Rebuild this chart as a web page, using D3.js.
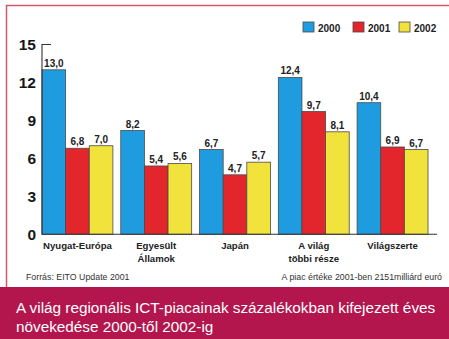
<!DOCTYPE html>
<html>
<head>
<meta charset="utf-8">
<script src="https://cdn.jsdelivr.net/npm/d3@7"></script>
<style>
  html, body { margin: 0; padding: 0; background: #ffffff; }
  svg { display: block; font-family: "Liberation Sans", Arial, Helvetica, sans-serif; }
</style>
</head>
<body>
<svg id="chart" width="449" height="339"></svg>
<script>
// Regional ICT market growth, percent per year
const categories = ["Nyugat-Európa", "Egyesült Államok", "Japán", "A világ többi része", "Világszerte"];
const categoryLines = [["Nyugat-Európa"], ["Egyesült", "Államok"], ["Japán"], ["A világ", "többi része"], ["Világszerte"]];
const years = ["2000", "2001", "2002"];
const values2000 = [13.0, 8.2, 6.7, 12.4, 10.4];
const values2001 = [6.8, 5.4, 4.7, 9.7, 6.9];
const values2002 = [7.0, 5.6, 5.7, 8.1, 6.7];
const yTicks = [0, 3, 6, 9, 12, 15];
const colors = ["#1f9be0", "#e3262b", "#f1e23c"];

const seriesValues = [values2000, values2001, values2002];
const rows = categories.map((c, i) => ({
  category: c,
  lines: categoryLines[i],
  values: years.map((y, j) => ({ year: y, value: seriesValues[j][i] }))
}));

const svg = d3.select("#chart");
const W = 449, H = 339;

const fmt = d3.formatLocale({ decimal: ",", thousands: " ", grouping: [3], currency: ["", ""] }).format(".1f");

// Frame and footer band
svg.append("rect").attr("x", 0).attr("y", 0).attr("width", W).attr("height", H).attr("fill", "#ffffff");
svg.append("path")
  .attr("d", `M6.5,288 V5.5 H${W}`)
  .attr("fill", "none").attr("stroke", "#cf5a6c").attr("stroke-width", 1.5);
svg.append("rect").attr("x", 0).attr("y", 287).attr("width", W).attr("height", H - 287).attr("fill", "#b2164d");

// Scales
const x0 = d3.scaleBand().domain(categories).range([42, 428]).paddingInner(0.1).paddingOuter(0);
const x1 = d3.scaleBand().domain(years).range([0, x0.bandwidth()]);
const color = d3.scaleOrdinal().domain(years).range(colors);
const y = d3.scaleLinear().domain([0, 15]).range([234.3, 44.5]);

// Bars
const groups = svg.append("g").selectAll("g").data(rows).join("g")
  .attr("transform", d => `translate(${x0(d.category)},0)`);

groups.selectAll("rect").data(d => d.values).join("rect")
  .attr("x", d => x1(d.year))
  .attr("y", d => y(d.value))
  .attr("width", x1.bandwidth())
  .attr("height", d => y(0) - y(d.value))
  .attr("fill", d => color(d.year))
  .attr("stroke", "#4a4a4a")
  .attr("stroke-width", 0.8);

groups.selectAll("text.val").data(d => d.values).join("text")
  .attr("class", "val")
  .attr("x", d => x1(d.year) + x1.bandwidth() / 2)
  .attr("y", d => y(d.value) - 3)
  .attr("text-anchor", "middle")
  .attr("font-size", 10)
  .attr("font-weight", "bold")
  .attr("fill", "#222")
  .text(d => fmt(d.value));

// Axes lines: top tick, vertical axis, baseline
svg.append("path")
  .attr("d", `M51,${y(15)} H42 V${y(0)} H437`)
  .attr("fill", "none").attr("stroke", "#333").attr("stroke-width", 1.1);

// Y tick labels
const yAxis = svg.append("g")
  .attr("transform", "translate(42,0)")
  .call(d3.axisLeft(y).tickValues(yTicks).tickSize(0).tickPadding(6).tickFormat(d3.format("d")));
yAxis.select(".domain").remove();
yAxis.selectAll("text")
  .attr("font-size", 15.5).attr("font-weight", "bold").attr("fill", "#161616")
  .attr("font-family", "'Liberation Sans', Arial, sans-serif");

// Category labels
const catLabels = svg.append("g").selectAll("text").data(rows).join("text")
  .attr("x", d => x0(d.category) + x0.bandwidth() / 2)
  .attr("y", 248.5)
  .attr("text-anchor", "middle")
  .attr("font-size", 9.6)
  .attr("font-weight", "bold")
  .attr("fill", "#222");
catLabels.selectAll("tspan").data(d => d.lines).join("tspan")
  .attr("x", function () { return d3.select(this.parentNode).attr("x"); })
  .attr("dy", (d, i) => i === 0 ? 0 : 13)
  .text(d => d);

// Legend
const legend = svg.append("g").selectAll("g").data(years).join("g")
  .attr("transform", (d, i) => `translate(${[303, 353, 399][i]},22)`);
legend.append("rect")
  .attr("width", 11).attr("height", 10)
  .attr("fill", d => color(d)).attr("stroke", "#4a4a4a").attr("stroke-width", 0.8);
legend.append("text")
  .attr("x", 15).attr("y", 9.5)
  .attr("font-size", 10).attr("font-weight", "bold").attr("fill", "#222")
  .text(d => d);

// Notes
svg.append("text").attr("x", 26).attr("y", 280)
  .attr("font-size", 8.8).attr("fill", "#333")
  .text("Forrás: EITO Update 2001");
svg.append("text").attr("x", 442).attr("y", 280)
  .attr("text-anchor", "end")
  .attr("font-size", 8.8).attr("fill", "#333")
  .text("A piac értéke 2001-ben 2151milliárd euró");

// Title in footer band
const title = svg.append("text").attr("fill", "#ffffff").attr("font-size", 15.3);
title.append("tspan").attr("x", 16).attr("y", 313)
  .text("A világ regionális ICT-piacainak százalékokban kifejezett éves");
title.append("tspan").attr("x", 16).attr("y", 332)
  .text("növekedése 2000-től 2002-ig");
</script>
</body>
</html>
